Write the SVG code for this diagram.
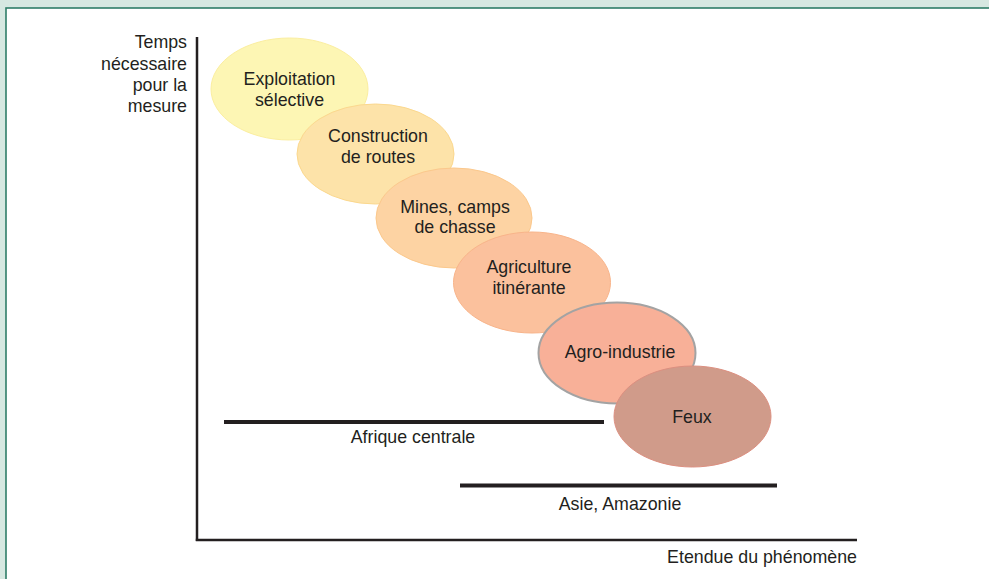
<svg xmlns="http://www.w3.org/2000/svg" width="989" height="579" viewBox="0 0 989 579">
  <style>
    text { font-family: "Liberation Sans", Arial, sans-serif; font-size: 17.8px; fill: #231f20; }
    .c { text-anchor: middle; }
    .r { text-anchor: end; }
    .axis { stroke: #231f20; stroke-width: 2.5; fill: none; }
    .bar { stroke: #231f20; stroke-width: 4; fill: none; }
  </style>
  <rect x="0" y="0" width="989" height="579" fill="#d6e8e1"/>
  <rect x="6" y="8" width="990" height="580" fill="#ffffff" stroke="#2f7d68" stroke-width="1.6"/>

  <g id="axes">
    <line class="axis" x1="197" y1="37" x2="197" y2="541"/>
    <line class="axis" x1="195.8" y1="540" x2="857" y2="540"/>
    <g id="y-label">
      <text class="r" x="187" y="48">Temps</text>
      <text class="r" x="187" y="70">nécessaire</text>
      <text class="r" x="187" y="91">pour la</text>
      <text class="r" x="187" y="112">mesure</text>
    </g>
    <text id="x-label" class="c" x="762" y="563">Etendue du phénomène</text>
  </g>

  <g id="connectors">
    <g id="afrique">
      <line class="bar" x1="224" y1="422" x2="604" y2="422"/>
      <text class="c" x="413" y="443">Afrique centrale</text>
    </g>
    <g id="asie">
      <line class="bar" x1="460" y1="485.5" x2="777" y2="485.5"/>
      <text class="c" x="620" y="510">Asie, Amazonie</text>
    </g>
  </g>

  <g id="n1">
    <ellipse cx="289.5" cy="89" rx="78.5" ry="51" fill="#fdf6b4" stroke="#fbeea0" stroke-width="1"/>
    <text class="c" x="289.5" y="85">Exploitation</text>
    <text class="c" x="289.5" y="106">sélective</text>
  </g>
  <g id="n2">
    <ellipse cx="375.5" cy="154" rx="78.5" ry="50" fill="#fde3a9" stroke="#fbd88e" stroke-width="1"/>
    <text class="c" x="378" y="142">Construction</text>
    <text class="c" x="378" y="163">de routes</text>
  </g>
  <g id="n3">
    <ellipse cx="454" cy="218" rx="78" ry="50" fill="#fdd3a3" stroke="#fbc88c" stroke-width="1"/>
    <text class="c" x="455" y="213">Mines, camps</text>
    <text class="c" x="455" y="233">de chasse</text>
  </g>
  <g id="n4">
    <ellipse cx="532" cy="282.5" rx="78.5" ry="50.5" fill="#fbc19d" stroke="#f8b48a" stroke-width="1"/>
    <text class="c" x="529" y="273">Agriculture</text>
    <text class="c" x="529" y="294">itinérante</text>
  </g>
  <g id="n5">
    <ellipse cx="617" cy="353" rx="78.5" ry="50.5" fill="#f8b098" stroke="#a3a3a3" stroke-width="2"/>
    <text class="c" x="620" y="358">Agro-industrie</text>
  </g>
  <g id="n6">
    <ellipse cx="692.5" cy="416.5" rx="78.5" ry="50.5" fill="#d09b8a" stroke="#dc8f80" stroke-width="1"/>
    <text class="c" x="692" y="423">Feux</text>
  </g>
</svg>
